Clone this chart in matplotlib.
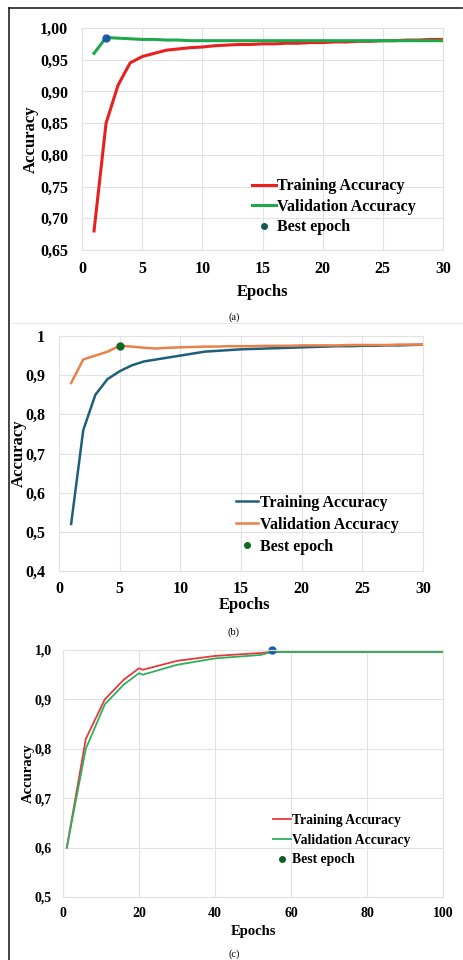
import matplotlib.pyplot as plt
from matplotlib.lines import Line2D
from matplotlib.ticker import FuncFormatter

plt.rcParams['font.family'] = ['Liberation Serif', 'DejaVu Serif']
plt.rcParams['font.weight'] = 'bold'

# %% data
# (a)
epochs_a = list(range(1, 31))
train_a = [0.680, 0.850, 0.910, 0.945, 0.955, 0.960, 0.965, 0.967, 0.969, 0.970,
           0.972, 0.973, 0.974, 0.974, 0.975, 0.975, 0.976, 0.976, 0.977, 0.977,
           0.978, 0.978, 0.979, 0.979, 0.980, 0.980, 0.981, 0.981, 0.982, 0.982]
val_a = [0.960, 0.985, 0.984, 0.983, 0.982, 0.982, 0.981, 0.981, 0.980, 0.980,
         0.980, 0.980, 0.980, 0.980, 0.980, 0.980, 0.980, 0.980, 0.980, 0.980,
         0.980, 0.980, 0.980, 0.980, 0.980, 0.980, 0.980, 0.980, 0.980, 0.980]
best_a = (2, 0.985)

# (b)
epochs_b = list(range(1, 31))
train_b = [0.52, 0.76, 0.85, 0.89, 0.91, 0.925, 0.935, 0.940, 0.945, 0.950,
           0.955, 0.960, 0.962, 0.964, 0.966, 0.967, 0.968, 0.969, 0.970, 0.971,
           0.972, 0.973, 0.974, 0.974, 0.975, 0.975, 0.976, 0.976, 0.977, 0.978]
val_b = [0.88, 0.94, 0.95, 0.96, 0.975, 0.973, 0.970, 0.968, 0.970, 0.971,
         0.972, 0.973, 0.973, 0.974, 0.974, 0.974, 0.975, 0.975, 0.975, 0.976,
         0.976, 0.976, 0.976, 0.977, 0.977, 0.977, 0.977, 0.978, 0.978, 0.978]
best_b = (5, 0.975)

# (c)
epochs_c = [1, 6, 11, 16, 20, 21, 30, 40, 52, 55, 60, 70, 80, 90, 100]
train_c = [0.600, 0.820, 0.900, 0.940, 0.963, 0.960, 0.978, 0.988, 0.994, 0.996,
           0.996, 0.996, 0.996, 0.996, 0.996]
val_c = [0.600, 0.800, 0.890, 0.930, 0.953, 0.950, 0.970, 0.983, 0.990, 0.996,
         0.996, 0.996, 0.996, 0.996, 0.996]
best_c = (55, 1.0)

grid_col = '#e2e2e2'
fig = plt.figure(figsize=(4.63, 9.6), dpi=100)


def comma(dec):
    return FuncFormatter(lambda v, p: ('{:.%df}' % dec).format(v).replace('.', ','))


def style(ax, fs, xpad, ypad):
    ax.grid(True, color=grid_col, linewidth=0.8)
    ax.set_axisbelow(True)
    for s in ax.spines.values():
        s.set_color(grid_col)
        s.set_linewidth(0.8)
    ax.tick_params(length=0, labelsize=fs, pad=0)
    ax.tick_params(axis='x', pad=xpad)
    ax.tick_params(axis='y', pad=ypad)
    for lab in ax.get_xticklabels() + ax.get_yticklabels():
        lab.set_fontweight('bold')


def legend(ax, c_tr, c_va, c_best, fs, anchor, hl, ls, lw):
    handles = [Line2D([], [], color=c_tr, lw=lw),
               Line2D([], [], color=c_va, lw=lw),
               Line2D([], [], color=c_best, lw=0, marker='o', markersize=4)]
    ax.legend(handles, ['Training Accuracy', 'Validation Accuracy', 'Best epoch'],
              loc='lower left', bbox_to_anchor=anchor, frameon=False, borderpad=0,
              handlelength=hl, handletextpad=0.1, labelspacing=ls,
              prop={'size': fs, 'weight': 'bold'})


# %% (a)
ax = fig.add_axes([82/463, 710/960, 361/463, 222/960])
ax.plot(epochs_a, train_a, color='#e8201f', lw=2.2)
ax.plot(epochs_a, val_a, color='#1ea84c', lw=2.2)
ax.plot(*best_a, 'o', color='#1f5aa6', markersize=5)
ax.set_xlim(0, 30)
ax.set_ylim(0.65, 1.0)
ax.set_xticks(range(0, 31, 5))
ax.set_yticks([0.65, 0.70, 0.75, 0.80, 0.85, 0.90, 0.95, 1.00])
ax.yaxis.set_major_formatter(comma(2))
style(ax, 11.5, 8, 10)
ax.set_xlabel('Epochs', fontsize=12, fontweight='bold')
ax.set_ylabel('Accuracy', fontsize=12, fontweight='bold')
ax.xaxis.set_label_coords(0.5, -0.153)
ax.yaxis.set_label_coords(-0.12, 0.5)
legend(ax, '#e8201f', '#1ea84c', '#0d5c4a', 11.5, (0.448, 0.03), 1.5, 0.28, 2.2)

# %% (b)
ax = fig.add_axes([59/463, 389/960, 364/463, 235/960])
ax.plot(epochs_b, train_b, color='#1f5f7a', lw=1.8)
ax.plot(epochs_b, val_b, color='#e8814a', lw=1.8)
ax.plot(*best_b, 'o', color='#0a6b1e', markersize=5)
ax.set_xlim(0, 30)
ax.set_ylim(0.4, 1.0)
ax.set_xticks(range(0, 31, 5))
ax.set_yticks([0.4, 0.5, 0.6, 0.7, 0.8, 0.9, 1.0])
ax.yaxis.set_major_formatter(FuncFormatter(
    lambda v, p: '1' if abs(v - 1) < 1e-9 else '{:.1f}'.format(v).replace('.', ',')))
style(ax, 11.5, 7.5, 10)
ax.set_xlabel('Epochs', fontsize=12, fontweight='bold')
ax.set_ylabel('Accuracy', fontsize=12, fontweight='bold')
ax.xaxis.set_label_coords(0.51, -0.112)
ax.yaxis.set_label_coords(-0.088, 0.5)
legend(ax, '#1f5f7a', '#e8814a', '#0a6b1e', 11.5, (0.464, 0.036), 1.4, 0.36, 1.8)

# %% (c)
ax = fig.add_axes([63/463, 63/960, 380/463, 247/960])
ax.plot(epochs_c, train_c, color='#e8393a', lw=1.3)
ax.plot(epochs_c, val_c, color='#2fae5e', lw=1.3)
ax.plot(*best_c, 'o', color='#1f5fa8', markersize=5, clip_on=False)
ax.set_xlim(0, 100)
ax.set_ylim(0.5, 1.0)
ax.set_xticks(range(0, 101, 20))
ax.set_yticks([0.5, 0.6, 0.7, 0.8, 0.9, 1.0])
ax.yaxis.set_major_formatter(comma(1))
style(ax, 10, 7, 8)
ax.set_xlabel('Epochs', fontsize=10.5, fontweight='bold')
ax.set_ylabel('Accuracy', fontsize=10.5, fontweight='bold')
ax.xaxis.set_label_coords(0.5, -0.113)
ax.yaxis.set_label_coords(-0.075, 0.5)
legend(ax, '#e8393a', '#2fae5e', '#0d5c2a', 9.8, (0.534, 0.096), 1.35, 0.51, 1.3)

# %% panel captions and frame
for y, t in [(317, '(a)'), (632, '(b)'), (954, '(c)')]:
    fig.text(234/463, 1 - y/960, t, ha='center', va='center', fontsize=7.5,
             fontweight='normal')
fig.add_artist(Line2D([9/463, 9/463], [0, 1 - 8/960], color='#222222', lw=1.2))
fig.add_artist(Line2D([9/463, 462/463], [1 - 8/960, 1 - 8/960], color='#222222', lw=1.2))
fig.add_artist(Line2D([12/463, 1], [1 - 323/960, 1 - 323/960], color='#e8e8e8', lw=0.8))

fig.savefig('out.png', dpi=100)
